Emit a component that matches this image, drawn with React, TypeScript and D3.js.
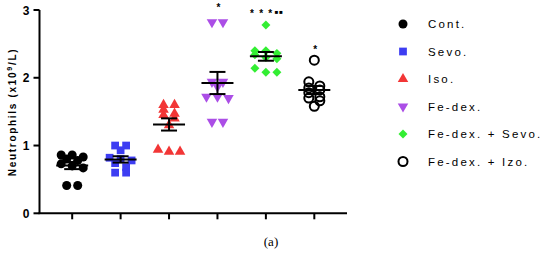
import React, { useEffect, useRef } from "react";
import * as d3 from "d3";

// group names (legend order)
const groups = ["Cont.", "Sevo.", "Iso.", "Fe-dex.", "Fe-dex. + Sevo.", "Fe-dex. + Izo."];

// neutrophil counts per animal (x10^9/L)
const contValues = [0.86, 0.86, 0.83, 0.8, 0.78, 0.73, 0.7, 0.67, 0.41, 0.41];
const sevoValues = [1.0, 1.0, 0.93, 0.82, 0.8, 0.78, 0.74, 0.68, 0.6, 0.6];
const isoValues = [1.6, 1.6, 1.53, 1.47, 1.45, 1.4, 1.3, 0.94, 0.91, 0.91];
const fedexValues = [2.82, 2.82, 1.94, 1.94, 1.87, 1.72, 1.7, 1.72, 1.35, 1.35];
const fedexSevoValues = [2.78, 2.4, 2.4, 2.36, 2.34, 2.3, 2.28, 2.14, 2.08, 2.08];
const fedexIzoValues = [2.26, 1.94, 1.88, 1.85, 1.82, 1.78, 1.72, 1.7, 1.66, 1.58];

const seriesValues = [contValues, sevoValues, isoValues, fedexValues, fedexSevoValues, fedexIzoValues];

// significance marks above each group: stars, squares, level (data units)
const sigStars = ["", "", "", "*", "* * *", "*"];
const sigSquares = ["", "", "", "", "■■", ""];
const sigLevels = [0, 0, 0, 2.99, 2.9, 2.37];

const yTicks = [0, 1, 2, 3];

const App = () => {
  const ref = useRef<SVGSVGElement | null>(null);

  useEffect(() => {
    const svg = d3.select(ref.current);
    svg.selectAll("*").remove();

    const font = "'Liberation Sans', Arial, sans-serif";
    const axisX = 39.5;
    const axisY = 213.3;

    const y = d3.scaleLinear().domain([0, 3]).range([axisY, 10]);
    const x = d3.scalePoint<string>().domain(groups).range([axisX, 347]).padding(0.675);

    const colors = ["#000000", "#3d3df2", "#f23636", "#ab4ee6", "#33ee33", "#000000"];
    const symbols = [
      d3.symbol().type(d3.symbolCircle).size(64)(),
      d3.symbol().type(d3.symbolSquare).size(60)(),
      d3.symbol().type(d3.symbolTriangle).size(48)(),
      d3.symbol().type(d3.symbolTriangle).size(48)(),
      d3.symbol().type(d3.symbolSquare).size(40)(),
      d3.symbol().type(d3.symbolCircle).size(64)(),
    ];
    const rotations = [0, 0, 0, 180, 45, 0];

    const drawSymbol = (g: any, i: number, cx: number, cy: number) => {
      g.append("path")
        .attr("d", symbols[i])
        .attr("transform", `translate(${cx},${cy}) rotate(${rotations[i]})`)
        .attr("fill", i === 5 ? "none" : colors[i])
        .attr("stroke", i === 5 ? "#000" : "none")
        .attr("stroke-width", 2);
    };

    // y axis
    svg.append("line")
      .attr("x1", axisX).attr("x2", axisX)
      .attr("y1", y(3)).attr("y2", axisY)
      .attr("stroke", "#000").attr("stroke-width", 2);
    yTicks.forEach((t) => {
      svg.append("line")
        .attr("x1", axisX - 6).attr("x2", axisX)
        .attr("y1", y(t)).attr("y2", y(t))
        .attr("stroke", "#000").attr("stroke-width", 2);
      svg.append("text")
        .attr("x", axisX - 10).attr("y", y(t) + 4.5)
        .attr("text-anchor", "end")
        .attr("font-family", font).attr("font-weight", "bold").attr("font-size", 12)
        .text(t);
    });

    // x axis
    svg.append("line")
      .attr("x1", axisX - 1).attr("x2", 347)
      .attr("y1", axisY).attr("y2", axisY)
      .attr("stroke", "#000").attr("stroke-width", 2);
    groups.forEach((gname) => {
      svg.append("line")
        .attr("x1", x(gname)!).attr("x2", x(gname)!)
        .attr("y1", axisY).attr("y2", axisY + 6)
        .attr("stroke", "#000").attr("stroke-width", 2);
    });

    // y label
    const yl = svg.append("text")
      .attr("transform", `translate(15.5,112) rotate(-90)`)
      .attr("text-anchor", "middle")
      .attr("font-family", font).attr("font-weight", "bold").attr("font-size", 10)
      .attr("letter-spacing", 1.7);
    yl.append("tspan").text("Neutrophils (x10");
    yl.append("tspan").attr("font-size", 7).attr("dy", -4).text("9");
    yl.append("tspan").attr("dy", 4).text("/L)");

    // points, spread in rows like a scatter dot plot
    const spacing = 11;
    seriesValues.forEach((vals, i) => {
      const cx = x(groups[i])!;
      const sorted = [...vals].sort((a, b) => b - a);
      const rows: number[][] = [];
      sorted.forEach((v) => {
        const last = rows[rows.length - 1];
        if (last && Math.abs(y(last[0]) - y(v)) < 4.5 && last.length < 3) last.push(v);
        else rows.push([v]);
      });
      const g = svg.append("g");
      rows.forEach((row) => {
        row.forEach((v, j) => {
          const off = (j - (row.length - 1) / 2) * spacing;
          drawSymbol(g, i, cx + off, y(v));
        });
      });

      // mean and SEM
      const m = d3.mean(vals)!;
      const sem = d3.deviation(vals)! / Math.sqrt(vals.length);
      const eb = svg.append("g").attr("stroke", "#000").attr("stroke-width", 2);
      eb.append("line").attr("x1", cx - 16).attr("x2", cx + 16).attr("y1", y(m)).attr("y2", y(m));
      eb.append("line").attr("x1", cx).attr("x2", cx).attr("y1", y(m + sem)).attr("y2", y(m - sem));
      eb.append("line").attr("x1", cx - 8).attr("x2", cx + 8).attr("y1", y(m + sem)).attr("y2", y(m + sem));
      eb.append("line").attr("x1", cx - 8).attr("x2", cx + 8).attr("y1", y(m - sem)).attr("y2", y(m - sem));

      // significance
      if (sigStars[i]) {
        const st = svg.append("text")
          .attr("x", cx + 1).attr("y", y(sigLevels[i]))
          .attr("text-anchor", "middle")
          .attr("font-family", font).attr("font-size", 10)
          .attr("font-weight", "bold")
          .attr("letter-spacing", sigSquares[i] ? 1.2 : 0);
        st.append("tspan").text(sigStars[i]);
        if (sigSquares[i]) {
          st.append("tspan").attr("font-size", 6).attr("dy", -2.5).attr("dx", 1.5).attr("letter-spacing", 0.8).text(sigSquares[i]);
        }
      }
    });

    // legend
    groups.forEach((gname, i) => {
      const ly = 24 + i * 27.5;
      drawSymbol(svg, i, 403, ly);
      svg.append("text")
        .attr("x", 428).attr("y", ly + 4)
        .attr("font-family", font).attr("font-size", 11.5)
        .attr("letter-spacing", 2.2)
        .text(gname);
    });

    // panel label
    svg.append("text")
      .attr("x", 271).attr("y", 246)
      .attr("text-anchor", "middle")
      .attr("font-family", "'Liberation Serif', 'DejaVu Serif', serif")
      .attr("font-size", 13)
      .text("(a)");
  }, []);

  return (
    <svg
      ref={ref}
      width={550}
      height={253}
      style={{ position: "absolute", left: 0, top: 0, background: "#fff" }}
    />
  );
};

export default App;
